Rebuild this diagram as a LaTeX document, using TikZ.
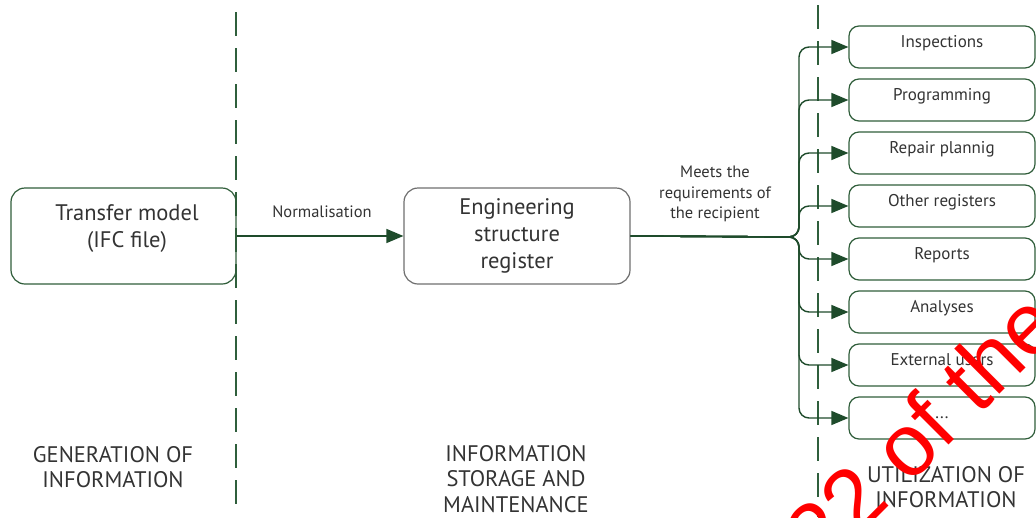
\documentclass[tikz,border=0pt]{standalone}
\usepackage{fontspec}
\setmainfont{PT Sans}
\newfontfamily\wmfont{Liberation Sans}
\usetikzlibrary{arrows.meta}

\definecolor{edgegreen}{HTML}{1E4B2B}
\definecolor{boxgreen}{HTML}{2F5D3A}
\definecolor{boxgray}{HTML}{6E6E6E}
\definecolor{divgreen}{HTML}{2F5F3C}
\definecolor{txtgray}{HTML}{333333}
\definecolor{wmred}{HTML}{FF0000}

% three plain full stops for the open-ended last row
\newcommand\moreusers{...}

\begin{document}
\begin{tikzpicture}[x=1pt,y=-1pt,
  box/.style={draw=boxgreen, line width=1.2pt, rounded corners=14pt, inner sep=0pt},
  graybox/.style={box, draw=boxgray},
  target/.style={draw=boxgreen, line width=1.2pt, rounded corners=10pt, inner sep=0pt,
    minimum width=186pt, minimum height=42pt},
  bigtext/.style={text=txtgray, align=center, inner sep=0pt, font=\fontsize{22.5}{27}\selectfont},
  smalltext/.style={text=txtgray, align=center, inner sep=0pt, font=\fontsize{16.5}{20.5}\selectfont},
  targettext/.style={text=txtgray, inner sep=0pt, anchor=base, font=\fontsize{17}{20}\selectfont},
  phasetext/.style={text=txtgray, align=center, inner sep=0pt, font=\fontsize{22.5}{25.5}\selectfont},
  conn/.style={draw=edgegreen, line width=1.4pt, -{Triangle[length=17pt,width=14pt]}},
  divider/.style={draw=divgreen, line width=1.5pt, dash pattern=on 24pt off 12pt},
  watermark/.style={text=wmred, inner sep=0pt, rotate=45, font=\wmfont\fontsize{88}{88}\selectfont}]

\useasboundingbox (0,0) rectangle (1036,517);
\clip (0,0) rectangle (1036,517);

% phase dividers
\draw[divider] (236,12) -- (236,504);
\draw[divider] (818,5) -- (818,517);

% source model and register
\node[box, minimum width=225pt, minimum height=96pt] (tm) at (123.5,236) {};
\node[bigtext] (tmtext) at (127,229) {Transfer model\\(IFC file)};

\node[graybox, minimum width=226pt, minimum height=96pt] (er) at (517,236) {};
\node[bigtext] (ertext) at (517,236) {Engineering\\structure\\register};

\draw[conn] (tm.east) -- (er.west);
\node[smalltext] (norm) at (322,212) {Normalisation};

\node[smalltext] (meets) at (715,194) {Meets the\\requirements of\\the recipient};

% distribution to the users of the register
\coordinate (hub) at (799,237);
\foreach \i/\lbl in {0/Inspections,1/Programming,2/Repair plannig,3/Other registers,
                     4/Reports,5/Analyses,6/External users,7/\moreusers}{
  \node[target] (r\i) at (942,47+53*\i) {};
  \node[targettext] (r\i text) at (942,47+53*\i) {\lbl};
  \draw[conn, rounded corners=10pt] (er.east) -- (hub) |- (r\i.west);
}

% phase captions
\node[phasetext] (gen) at (113,467) {GENERATION OF\\INFORMATION};
\node[phasetext] (sto) at (516,479) {INFORMATION\\STORAGE AND\\MAINTENANCE};
\node[phasetext] (uti) at (946,487) {UTILIZATION OF\\INFORMATION};

% stamp across the corner
\node[watermark] (stamp) at (887,463) {2022 of the};
\end{tikzpicture}
\end{document}
